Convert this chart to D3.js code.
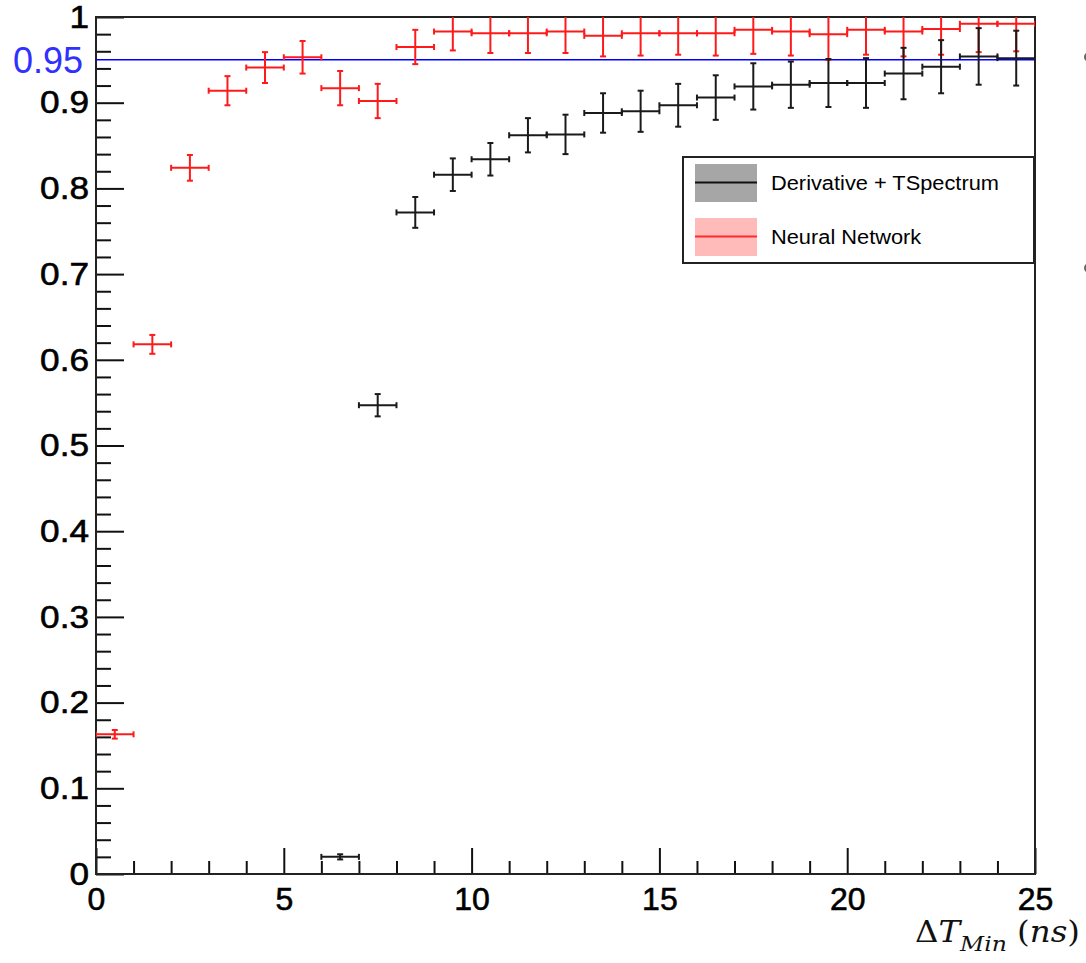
<!DOCTYPE html>
<html>
<head>
<meta charset="utf-8">
<script src="https://cdnjs.cloudflare.com/ajax/libs/d3/7.8.5/d3.min.js"></script>
<style>
  body { margin: 0; background: #ffffff; }
  svg { display: block; }
</style>
</head>
<body>
<div id="chart"></div>
<script>
// Bin centres of Delta T_min (ns), 1 ns wide bins
var binCenters = [0.5, 1.5, 2.5, 3.5, 4.5, 5.5, 6.5, 7.5, 8.5, 9.5, 10.5, 11.5, 12.5,
                  13.5, 14.5, 15.5, 16.5, 17.5, 18.5, 19.5, 20.5, 21.5, 22.5, 23.5, 24.5];
var binHalfWidth = 0.5;

// Neural Network efficiency + error
var nnEff = [0.163, 0.618, 0.824, 0.914, 0.941, 0.953, 0.917, 0.902, 0.965, 0.983, 0.981, 0.981, 0.983,
             0.978, 0.981, 0.981, 0.981, 0.985, 0.983, 0.980, 0.985, 0.983, 0.986, 0.992, 0.992];
var nnErr = [0.005, 0.011, 0.015, 0.017, 0.018, 0.019, 0.020, 0.020, 0.020, 0.022, 0.023, 0.023, 0.025,
             0.024, 0.026, 0.025, 0.026, 0.028, 0.028, 0.030, 0.029, 0.029, 0.030, 0.033, 0.032];

// Derivative + TSpectrum efficiency + error (no entries below 6 ns)
var derEff = [null, null, null, null, null, null, 0.020, 0.547, 0.772, 0.816, 0.834, 0.862, 0.863,
              0.888, 0.890, 0.897, 0.906, 0.919, 0.921, 0.923, 0.923, 0.934, 0.942, 0.954, 0.952];
var derErr = [null, null, null, null, null, null, 0.003, 0.013, 0.018, 0.019, 0.019, 0.020, 0.023,
              0.023, 0.024, 0.025, 0.026, 0.027, 0.027, 0.028, 0.029, 0.030, 0.031, 0.033, 0.032];

var xMajorTicks = [0, 5, 10, 15, 20, 25];
var yMajorTicks = [0, 0.1, 0.2, 0.3, 0.4, 0.5, 0.6, 0.7, 0.8, 0.9, 1];
var targetLine = 0.95;

var legendNames = ["Derivative + TSpectrum", "Neural Network"];

var width = 1086, height = 963;
var margin = { left: 96, right: 51, top: 17, bottom: 89 };
var labelFont = "'Liberation Sans', Arial, sans-serif";

var svg = d3.select("#chart").append("svg")
  .attr("width", width)
  .attr("height", height);

var x = d3.scaleLinear().domain([0, 25]).range([margin.left, width - margin.right]);
var y = d3.scaleLinear().domain([0, 1]).range([height - margin.bottom, margin.top]);

svg.append("defs").append("clipPath").attr("id", "plotClip")
  .append("rect")
  .attr("x", x(0)).attr("y", y(1))
  .attr("width", x(25) - x(0)).attr("height", y(0) - y(1));

// stretch text a bit wider, the original labels are rendered wide
function widen(sel, factor) {
  sel.each(function() {
    var w = this.getComputedTextLength();
    d3.select(this).attr("textLength", w * factor).attr("lengthAdjust", "spacingAndGlyphs");
  });
}

// minor ticks (every 1 ns / every 0.02)
var xMinor = d3.range(0, 26, 1).filter(function(d) { return d % 5 !== 0; });
var yMinor = d3.range(0, 51, 1).map(function(d) { return d / 50; }).filter(function(d, i) { return i % 5 !== 0; });

svg.append("g")
  .attr("transform", "translate(0," + y(0) + ")")
  .call(d3.axisBottom(x).tickValues(xMinor).tickSize(-13).tickFormat(""))
  .call(function(g) { g.select(".domain").remove(); })
  .selectAll("line").attr("stroke", "#111").attr("stroke-width", 2);

svg.append("g")
  .attr("transform", "translate(" + x(0) + ",0)")
  .call(d3.axisLeft(y).tickValues(yMinor).tickSize(-15).tickFormat(""))
  .call(function(g) { g.select(".domain").remove(); })
  .selectAll("line").attr("stroke", "#111").attr("stroke-width", 2);

// major ticks + labels
var xAxis = svg.append("g")
  .attr("transform", "translate(0," + y(0) + ")")
  .call(d3.axisBottom(x).tickValues(xMajorTicks).tickSize(-26).tickPadding(13).tickFormat(d3.format("d")));
xAxis.select(".domain").remove();
xAxis.selectAll("line").attr("stroke", "#111").attr("stroke-width", 2);
xAxis.selectAll("text")
  .attr("fill", "#000")
  .attr("stroke", "#000")
  .attr("stroke-width", 0.6)
  .style("font-family", labelFont)
  .style("font-size", "32px");

var yAxis = svg.append("g")
  .attr("transform", "translate(" + x(0) + ",0)")
  .call(d3.axisLeft(y).tickValues(yMajorTicks).tickSize(-28).tickPadding(7)
    .tickFormat(function(d) { return String(+d.toFixed(1)); }));
yAxis.select(".domain").remove();
yAxis.selectAll("line").attr("stroke", "#111").attr("stroke-width", 2);
yAxis.selectAll("text")
  .attr("fill", "#000")
  .attr("stroke", "#000")
  .attr("stroke-width", 0.6)
  .style("font-family", labelFont)
  .style("font-size", "32px")
  .call(widen, 1.1);

// frame
svg.append("rect")
  .attr("x", x(0)).attr("y", y(1))
  .attr("width", x(25) - x(0)).attr("height", y(0) - y(1))
  .attr("fill", "none")
  .attr("stroke", "#222")
  .attr("stroke-width", 2);

// 0.95 reference line
svg.append("line")
  .attr("x1", x(0)).attr("x2", x(25))
  .attr("y1", y(targetLine)).attr("y2", y(targetLine))
  .attr("stroke", "#0000ff")
  .attr("stroke-width", 1.5);

svg.append("text")
  .attr("x", x(0) - 13)
  .attr("y", y(targetLine))
  .attr("dy", "0.36em")
  .attr("text-anchor", "end")
  .attr("fill", "#3030ff")
  .style("font-family", labelFont)
  .style("font-size", "36px")
  .text("0.95");

/*
  Draw one histogram series as ROOT-style error crosses:
  horizontal bar over the bin width, vertical bar for the error,
  little end caps on both
*/
function drawSeries(values, errors, color) {
  var pts = [];
  for (var i = 0; i < binCenters.length; i++) {
    if (values[i] === null) continue;
    pts.push({ x: binCenters[i], v: values[i], e: errors[i] });
  }

  var g = svg.append("g")
    .attr("clip-path", "url(#plotClip)")
    .attr("stroke", color)
    .attr("stroke-width", 2)
    .attr("fill", "none");

  var cap = 3;
  var pt = g.selectAll("g.pt").data(pts).enter().append("g").attr("class", "pt");

  // horizontal bar
  pt.append("line")
    .attr("x1", function(d) { return x(d.x - binHalfWidth); })
    .attr("x2", function(d) { return x(d.x + binHalfWidth); })
    .attr("y1", function(d) { return y(d.v); })
    .attr("y2", function(d) { return y(d.v); });
  // vertical bar
  pt.append("line")
    .attr("x1", function(d) { return x(d.x); })
    .attr("x2", function(d) { return x(d.x); })
    .attr("y1", function(d) { return y(d.v - d.e); })
    .attr("y2", function(d) { return y(d.v + d.e); });
  // caps on the horizontal bar ends
  [-1, 1].forEach(function(s) {
    pt.append("line")
      .attr("x1", function(d) { return x(d.x + s * binHalfWidth); })
      .attr("x2", function(d) { return x(d.x + s * binHalfWidth); })
      .attr("y1", function(d) { return y(d.v) - cap; })
      .attr("y2", function(d) { return y(d.v) + cap; });
  });
  // caps on the vertical bar ends
  [-1, 1].forEach(function(s) {
    pt.append("line")
      .attr("x1", function(d) { return x(d.x) - cap; })
      .attr("x2", function(d) { return x(d.x) + cap; })
      .attr("y1", function(d) { return y(d.v + s * d.e); })
      .attr("y2", function(d) { return y(d.v + s * d.e); });
  });
}

drawSeries(nnEff, nnErr, "#ff1a1a");
drawSeries(derEff, derErr, "#1a1a1a");

// Legend
var legend = svg.append("g");
legend.append("rect")
  .attr("x", 683).attr("y", 157)
  .attr("width", 351).attr("height", 106)
  .attr("fill", "#ffffff")
  .attr("stroke", "#222")
  .attr("stroke-width", 2);

var legendFill = ["#a6a6a6", "#ffbaba"];
var legendLine = ["#111111", "#ff2a2a"];
legendNames.forEach(function(name, i) {
  var top = 164 + i * 54;
  legend.append("rect")
    .attr("x", 695).attr("y", top)
    .attr("width", 62).attr("height", 38)
    .attr("fill", legendFill[i]);
  legend.append("line")
    .attr("x1", 695).attr("x2", 757)
    .attr("y1", top + 18.5).attr("y2", top + 18.5)
    .attr("stroke", legendLine[i])
    .attr("stroke-width", 2);
  legend.append("text")
    .attr("x", 771).attr("y", top + 25.5)
    .attr("fill", "#000")
    .style("font-family", labelFont)
    .style("font-size", "20px")
    .text(name)
    .call(widen, 1.09);
});

// x axis title: Delta T_Min (ns)
var title = svg.append("text")
  .attr("x", 915).attr("y", 942)
  .attr("fill", "#111")
  .style("font-family", "'DejaVu Serif', 'Liberation Serif', serif")
  .style("font-size", "29px");
title.append("tspan").text("\u0394");
title.append("tspan").style("font-style", "italic").text("T");
title.append("tspan").style("font-style", "italic").style("font-size", "21px").attr("dy", 9).text("Min");
title.append("tspan").attr("dy", -9).text(" (");
title.append("tspan").style("font-style", "italic").text("ns");
title.append("tspan").text(")");
title.attr("textLength", 165).attr("lengthAdjust", "spacingAndGlyphs");

// clipped slide bullets on the far right
svg.selectAll("circle.bullet").data([57, 268]).enter().append("circle")
  .attr("class", "bullet")
  .attr("cx", 1089).attr("cy", function(d) { return d; })
  .attr("r", 5)
  .attr("fill", "#666");
</script>
</body>
</html>
